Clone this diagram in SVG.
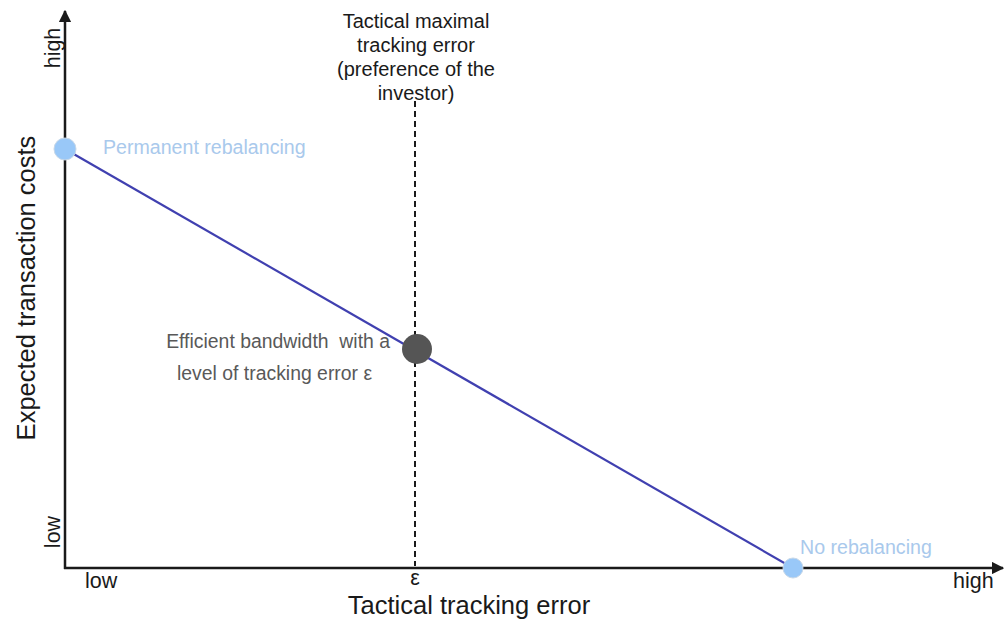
<svg xmlns="http://www.w3.org/2000/svg" width="1005" height="622" viewBox="0 0 1005 622">
  <style>
    text { font-family: "Liberation Sans", Arial, sans-serif; }
    .axis { stroke: #1a1a1a; stroke-width: 2.5; fill: none; }
    .lbl { fill: #1a1a1a; font-size: 21.5px; }
    .title { fill: #1a1a1a; font-size: 25.5px; }
    .note { fill: #1a1a1a; font-size: 20px; text-anchor: middle; }
    .blue { fill: #a9c9ec; font-size: 19.6px; }
    .gray { fill: #595959; font-size: 19.4px; }
  </style>
  <defs>
    <marker id="arrow" viewBox="0 0 10 10" refX="9" refY="5" markerWidth="5" markerHeight="5" orient="auto">
      <path d="M0,0 L10,5 L0,10 z" fill="#1a1a1a"/>
    </marker>
  </defs>

  <!-- axes and guide lines -->
  <g id="connectors">
    <line class="axis" x1="65" y1="569" x2="65" y2="11" marker-end="url(#arrow)"/>
    <line class="axis" x1="64" y1="568" x2="1003" y2="568" marker-end="url(#arrow)"/>
    <line x1="415" y1="101" x2="415" y2="566" stroke="#1a1a1a" stroke-width="2" stroke-dasharray="6,4"/>
    <line x1="65" y1="149" x2="793" y2="568" stroke="#4040b0" stroke-width="2.2"/>
  </g>

  <!-- axis labels -->
  <g id="axis-labels">
    <text class="title" transform="translate(35,288) rotate(-90)" text-anchor="middle">Expected transaction costs</text>
    <text class="lbl" transform="translate(60,48) rotate(-90)" text-anchor="middle">high</text>
    <text class="lbl" transform="translate(60,532) rotate(-90)" text-anchor="middle">low</text>
    <text class="lbl" x="85" y="588">low</text>
    <text class="lbl" x="415" y="585" text-anchor="middle">ε</text>
    <text class="lbl" x="953" y="588">high</text>
    <text class="title" x="469" y="614" text-anchor="middle">Tactical tracking error</text>
  </g>

  <g id="max-tracking-error">
    <text class="note" x="416" y="28">Tactical maximal</text>
    <text class="note" x="416" y="52">tracking error</text>
    <text class="note" x="416" y="76">(preference of the</text>
    <text class="note" x="416" y="100">investor)</text>
  </g>

  <g id="permanent-rebalancing">
    <circle cx="65" cy="149" r="11" fill="#99c8f8" stroke="#c8d8e8" stroke-width="1"/>
    <text class="blue" x="103" y="154">Permanent rebalancing</text>
  </g>

  <g id="efficient-bandwidth">
    <circle cx="417" cy="349" r="15" fill="#555555"/>
    <text class="gray" x="390" y="348" text-anchor="end" xml:space="preserve">Efficient bandwidth  with a</text>
    <text class="gray" x="177" y="380">level of tracking error ε</text>
  </g>

  <g id="no-rebalancing">
    <circle cx="793" cy="568" r="10" fill="#99c8f8" stroke="#c8d8e8" stroke-width="1"/>
    <text class="blue" x="800" y="554">No rebalancing</text>
  </g>
</svg>
